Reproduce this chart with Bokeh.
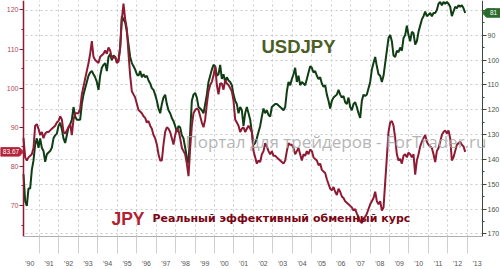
import numpy as np
from bokeh.plotting import figure
from bokeh.models import Range1d, LinearAxis, FixedTicker, Label, PolyAnnotation
from bokeh.embed import file_html
from bokeh.resources import INLINE

# Real effective exchange rate of JPY (left axis), roughly monthly, 1990-2012
jpy_reer = [
    87.2, 82.3, 81.5, 82.3, 82.7, 83.1, 84.7, 90.4, 90.8, 89.6, 88.0, 88.8, 87.2, 88.4, 88.8, 88.8, 89.2,
    89.6, 90.0, 90.4, 91.2, 91.6, 92.8, 92.0, 88.8, 88.4, 89.2, 90.0, 90.8, 88.0, 92.0, 93.6, 93.6, 93.6,
    94.8, 98.4, 100.4, 102.4, 104.4, 106.4, 108.8, 112.0, 108.0, 107.2, 106.8, 106.4, 108.0, 108.4, 108.8,
    109.6, 108.8,
    110.4, 109.6, 107.6, 107.8, 108.0, 106.4, 106.8, 110.4, 117.6, 121.6, 117.6, 115.2, 108.8, 103.2, 99.2,
    98.4, 97.6, 96.0, 94.4, 94.0, 93.6, 92.8, 92.4, 91.2, 91.6, 90.4, 89.6, 88.0, 87.2, 85.6, 83.1, 81.5,
    81.5, 85.6, 88.8, 90.0, 89.6, 88.8, 87.2, 85.6, 88.0, 89.6, 89.2, 87.2, 84.7, 83.9, 83.1, 80.7, 77.5,
    84.7, 90.4, 93.6, 94.4, 94.8,
    94.4, 92.8, 91.2, 90.0, 92.0, 96.0, 99.2, 100.8, 101.6, 103.2, 105.6, 100.8, 98.4, 101.2, 101.2, 99.6,
    102.0, 101.2, 100.8, 100.0, 99.2, 96.8, 92.0, 91.2, 90.4, 88.8, 89.6, 90.0, 88.8, 89.6, 90.4, 89.6,
    88.8, 83.9, 82.3, 80.7, 81.5, 81.1, 83.1, 83.9, 85.9, 85.1, 83.9, 83.1, 83.9, 82.7, 82.7, 82.3, 81.9,
    81.5, 81.1, 80.7, 81.5, 83.9,
    85.9, 85.5, 85.5, 84.7, 83.1, 83.9, 84.7, 83.1, 81.5, 83.1, 82.7, 83.9, 83.1, 84.3, 83.9, 82.3, 81.9,
    81.5, 80.3, 80.7, 79.1, 78.7, 78.3, 76.7, 75.5, 74.3, 73.9, 74.7, 73.5, 72.7, 74.3, 73.5, 72.3, 71.9,
    71.1, 70.7, 70.3, 69.9, 69.5, 68.7, 69.1, 67.9, 67.1, 65.9, 65.5, 66.7, 67.1, 67.9, 69.1, 70.3, 71.1,
    71.9, 73.5, 71.1,
    70.3, 71.1, 68.7, 69.5, 75.9, 82.3, 88.8, 91.2, 91.6, 90.4, 87.2, 83.1, 81.5, 81.9, 80.7, 82.7, 83.1,
    82.3, 83.5, 83.1, 82.3, 83.1, 77.9, 81.5, 83.1, 85.1, 86.3, 87.2, 88.0, 86.3, 85.5, 85.1, 84.7, 83.1,
    81.1, 83.9, 84.7, 86.3, 88.0, 88.8, 89.2, 88.4, 89.2, 87.2, 81.5, 82.3, 83.9, 85.5, 85.9, 86.3, 85.5,
    85.1, 83.7,
]

# USDJPY (right axis, inverted), same dates
usdjpy = [
    146.0, 156.8, 158.7, 151.7, 151.7, 144.2, 140.4, 134.1, 131.5, 135.3, 131.5, 135.3, 136.6, 141.0, 137.9,
    137.2, 136.6, 135.3, 131.5, 130.3, 129.6, 126.5, 125.2, 127.8, 131.5, 133.4, 130.3, 127.1, 125.9, 124.0,
    118.9, 122.7, 124.0, 124.0, 124.0, 117.6, 113.9, 111.3, 108.8, 106.3, 105.0, 104.4, 105.7, 106.9, 108.8,
    112.0, 106.3, 103.1, 101.9, 101.2, 104.4,
    98.7, 97.5, 100.0, 98.1, 98.7, 100.6, 100.0, 94.9, 82.3, 83.6, 84.8, 88.6, 93.7, 98.7, 101.2, 102.5,
    103.8, 105.7, 106.3, 104.4, 106.9, 105.7, 106.9, 106.3, 108.2, 109.4, 111.3, 112.0, 113.9, 116.4, 119.5,
    121.4, 117.7, 115.1, 113.9, 117.7, 120.2, 121.4, 123.3, 124.6, 126.5, 129.0, 126.5, 127.1, 130.3, 131.5,
    135.3, 139.1, 141.6, 129.0, 116.4, 113.9, 113.2, 115.1,
    118.9, 119.5, 120.2, 121.4, 117.7, 113.9, 108.8, 106.3, 103.8, 101.9, 102.5, 106.3, 105.7, 101.9, 107.6,
    105.7, 108.8, 106.9, 108.2, 108.8, 110.1, 113.9, 116.4, 117.7, 121.4, 118.9, 120.2, 126.5, 121.4, 118.9,
    121.4, 124.0, 129.0, 134.1, 133.4, 131.5, 129.0, 126.5, 122.7, 119.5, 121.4, 120.2, 122.1, 122.7, 118.9,
    118.3, 117.7, 117.7, 118.3, 118.9, 119.5, 120.2, 118.9, 112.6,
    108.8, 110.1, 107.6, 105.7, 103.1, 108.8, 106.3, 110.1, 108.8, 109.4, 110.1, 107.6, 105.0, 102.5, 103.1,
    105.0, 104.4, 106.3, 107.6, 106.9, 109.4, 110.7, 110.1, 113.9, 116.4, 119.5, 116.4, 115.1, 114.5, 113.9,
    112.0, 113.9, 115.1, 114.5, 117.0, 117.7, 115.1, 118.9, 120.2, 117.7, 117.0, 118.9, 121.4, 123.3, 116.4,
    113.9, 114.5, 113.9, 111.3, 108.8, 103.8, 101.2, 98.7, 102.5,
    105.7, 106.3, 108.8, 106.3, 101.2, 96.2, 91.1, 89.9, 92.4, 98.1, 98.7, 96.2, 96.8, 94.9, 96.2, 91.1,
    89.9, 86.1, 89.9, 92.4, 88.6, 89.2, 93.7, 92.4, 88.6, 86.1, 83.6, 82.3, 80.4, 82.3, 81.7, 81.0, 82.3,
    81.0, 81.0, 79.8, 77.3, 76.6, 77.9, 76.6, 77.3, 76.6, 77.3, 78.5, 82.3, 80.4, 78.5, 79.1, 77.9, 78.5,
    77.9, 79.1, 81.0,
]

first_date, last_date = 1990.18, 2012.89          # decimal years of first / last observation
years = np.linspace(first_date, last_date, len(usdjpy))

year_ticks = list(range(1991, 2014))               # year boundaries
year_label_pos = [y + 0.5 for y in range(1990, 2014)]
year_labels = ["'90", "'91", "'92", "'93", "'94", "'95", "'96", "'97", "'98", "'99", "'00", "'01",
               "'02", "'03", "'04", "'05", "'06", "'07", "'08", "'09", "'10", "'11", "'12", "'13"]
jpy_ticks = [70, 80, 90, 100, 110, 120]
jpy_minor = [65, 75, 85, 95, 105, 115]
usd_ticks = [80, 90, 100, 110, 120, 130, 140, 150, 160, 170]
usd_minor = [85, 95, 105, 115, 125, 135, 145, 155, 165]
last_jpy_label = "83.67"
last_usd_label = "81"

RED = "#8e1b33"
GREEN = "#0f3d14"
FONT = "Liberation Sans"

# plotting area bounds (data units)
X0, X1 = 1990.18, 2013.78
J0, J1 = 62.07, 122.4
U0, U1 = 171.06, 75.98
px_year = 1 / 19.45            # years per pixel
px_jpy = 1 / 4.16              # JPY units per pixel
px_usd = 1 / 2.64              # USD units per pixel

# frame spans the full width; the y axes sit at fixed locations inside it
p = figure(width=500, height=269, output_backend="svg", toolbar_location=None,
           x_range=Range1d(X0 - 23 * px_year, X1 + 18 * px_year),
           y_range=Range1d(J0, J1),
           min_border_left=0, min_border_right=0, min_border_top=0, min_border_bottom=18)
p.extra_y_ranges = {"usd": Range1d(U0, U1)}
p.outline_line_color = None
p.background_fill_color = "white"
p.border_fill_color = "white"

# x axis
xa = p.xaxis[0]
xa.bounds = (X0, X1)
xa.ticker = FixedTicker(ticks=year_label_pos, minor_ticks=year_ticks)
xa.major_label_overrides = {pos: lab for pos, lab in zip(year_label_pos, year_labels)}
xa.major_tick_out = 0
xa.major_tick_in = 0
xa.minor_tick_out = 17
xa.minor_tick_in = 0
xa.minor_tick_line_color = "#cfcfcf"
xa.axis_line_color = "#b0b0b0"
xa.major_label_text_font = FONT
xa.major_label_text_font_size = "7px"
xa.major_label_text_color = "#555555"
xa.major_label_standoff = 6

# horizontal dotted grid: long inward ticks of an unlabeled axis on the USDJPY scale
hg = LinearAxis(y_range_name="usd", ticker=FixedTicker(ticks=usd_ticks, minor_ticks=[]),
                fixed_location=X1, level="underlay")
hg.axis_line_color = None
hg.major_tick_in = int(round((X1 - X0) / px_year))
hg.major_tick_out = 0
hg.minor_tick_line_color = None
hg.major_tick_line_color = "#c8c8c8"
hg.major_tick_line_dash = "2 3"
hg.major_label_text_font_size = "0px"
hg.major_label_text_alpha = 0
p.add_layout(hg, "right")

# left axis (JPY REER)
ya = p.yaxis[0]
ya.fixed_location = X0
ya.bounds = (J0, J1)
ya.ticker = FixedTicker(ticks=jpy_ticks, minor_ticks=jpy_minor)
ya.axis_line_color = RED
ya.axis_line_width = 1.5
ya.major_tick_line_color = RED
ya.minor_tick_line_color = RED
ya.major_tick_out = 4
ya.major_tick_in = 0
ya.minor_tick_out = 2
ya.minor_tick_in = 0
ya.major_label_text_font = FONT
ya.major_label_text_font_size = "7px"
ya.major_label_text_color = "#b0455a"
ya.major_label_standoff = 1

# right axis (USDJPY inverted)
ra = LinearAxis(y_range_name="usd", ticker=FixedTicker(ticks=usd_ticks, minor_ticks=usd_minor))
ra.fixed_location = X1
ra.bounds = (U1, U0)
ra.axis_line_color = "#3a4a3a"
ra.major_tick_line_color = "#3a4a3a"
ra.minor_tick_line_color = "#3a4a3a"
ra.major_tick_out = 4
ra.major_tick_in = 0
ra.minor_tick_out = 2
ra.minor_tick_in = 0
ra.major_label_text_font = FONT
ra.major_label_text_font_size = "7px"
ra.major_label_text_color = "#4a554a"
ra.major_label_standoff = 1
p.add_layout(ra, "right")

# vertical dotted grid at year boundaries
gx = p.xgrid[0]
gx.ticker = FixedTicker(ticks=year_ticks)
gx.grid_line_color = "#c8c8c8"
gx.grid_line_dash = "2 3"
p.ygrid.visible = False

# watermark
p.add_layout(Label(x=1998.5, y=86.4, text="Портал для трейдеров - ForTrader.ru",
                   text_font="Open Sans", text_font_size="17px", text_color="#a8a8a8",
                   text_alpha=0.85, text_baseline="alphabetic"))

# series
p.line(years, usdjpy, y_range_name="usd", line_color=GREEN, line_width=2)
p.line(years, jpy_reer, line_color=RED, line_width=2)

# text annotations
p.add_layout(Label(x=2004.32, y=110.75, text="USDJPY", text_font=FONT, text_font_style="bold",
                   text_font_size="18.5px", text_color="#4c5e26", text_align="center",
                   text_baseline="middle"))
p.add_layout(Label(x=1994.70, y=66.6, text="JPY", text_font=FONT, text_font_style="bold",
                   text_font_size="17.5px", text_color="#b3202f", text_baseline="alphabetic"))
p.add_layout(Label(x=1996.81, y=66.6, text="Реальный эффективный обменный курс",
                   text_font="DejaVu Sans", text_font_style="bold", text_font_size="11px",
                   text_color="#7a0614", text_baseline="alphabetic"))

# last value badges in the axis margins
yj = jpy_reer[-1]
p.add_layout(PolyAnnotation(
    xs=[X0 - 23 * px_year, X0 - 4 * px_year, X0, X0 - 4 * px_year, X0 - 23 * px_year],
    ys=[yj + 4.5 * px_jpy, yj + 4.5 * px_jpy, yj, yj - 4.5 * px_jpy, yj - 4.5 * px_jpy],
    fill_color="#b3243a", fill_alpha=1, line_color="#b3243a", line_alpha=1))
p.add_layout(Label(x=X0 - 12.5 * px_year, y=yj, text=last_jpy_label, text_font=FONT,
                   text_font_size="6.5px", text_color="white", text_align="center",
                   text_baseline="middle"))
# USDJPY last value expressed on the left (JPY) scale for placement
yu = J1 - (usdjpy[-1] - U1) / px_usd * px_jpy
p.add_layout(PolyAnnotation(
    xs=[X1, X1 + 4 * px_year, X1 + 18 * px_year, X1 + 18 * px_year, X1 + 4 * px_year],
    ys=[yu, yu + 4.5 * px_jpy, yu + 4.5 * px_jpy, yu - 4.5 * px_jpy, yu - 4.5 * px_jpy],
    fill_color="#2b6b2e", fill_alpha=1, line_color="#2b6b2e", line_alpha=1))
p.add_layout(Label(x=X1 + 11 * px_year, y=yu, text=last_usd_label,
                   text_font=FONT, text_font_size="6.5px", text_color="white", text_align="center",
                   text_baseline="middle"))

open("out.html", "w").write(file_html(p, INLINE))
